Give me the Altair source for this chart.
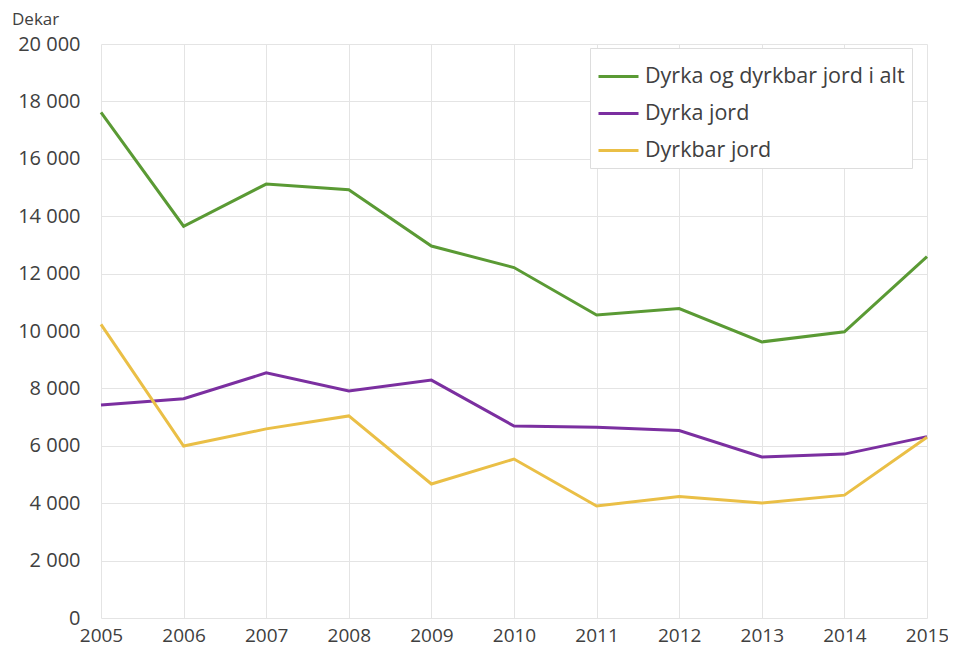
import altair as alt
import pandas as pd

years = [2005, 2006, 2007, 2008, 2009, 2010, 2011, 2012, 2013, 2014, 2015]
total = [17620, 13650, 15120, 14920, 12960, 12210, 10560, 10780, 9620, 9970, 12590]
dyrka = [7420, 7640, 8540, 7910, 8290, 6690, 6650, 6530, 5610, 5710, 6320]
dyrkbar = [10230, 5990, 6590, 7040, 4670, 5540, 3900, 4230, 4010, 4280, 6300]

series_names = ["Dyrka og dyrkbar jord i alt", "Dyrka jord", "Dyrkbar jord"]
series_colors = ["#5a9a34", "#7b2fa0", "#eabf46"]

rows = []
for name, vals in zip(series_names, [total, dyrka, dyrkbar]):
    for y, v in zip(years, vals):
        rows.append({"year": y, "value": v, "series": name})
df = pd.DataFrame(rows)

FONT = "Open Sans"
TXT = "#404040"

lines = alt.Chart(df).mark_line(strokeWidth=3).encode(
    x=alt.X("year:Q",
            scale=alt.Scale(domain=[2005, 2015], nice=False, zero=False),
            axis=alt.Axis(values=years, format="d", title=None, grid=True,
                          domain=False, ticks=False, labelPadding=8,
                          labelFontSize=19, labelColor=TXT, labelFont=FONT,
                          gridColor="#e4e4e4", labelFlush=False)),
    y=alt.Y("value:Q",
            scale=alt.Scale(domain=[0, 20000], nice=False),
            axis=alt.Axis(values=list(range(0, 20001, 2000)), title=None,
                          domain=False, ticks=False, labelPadding=21,
                          labelFontSize=20, labelColor=TXT, labelFont=FONT,
                          gridColor="#e4e4e4",
                          labelExpr="replace(format(datum.value, ','), ',', ' ')")),
    color=alt.Color("series:N",
                    scale=alt.Scale(domain=series_names, range=series_colors),
                    sort=series_names,
                    legend=alt.Legend(title=None, orient="none", legendX=489, legendY=4,
                                      symbolType="stroke", symbolSize=1600,
                                      symbolStrokeWidth=3, rowPadding=5,
                                      labelFontSize=21.5, labelColor=TXT, labelFont=FONT,
                                      labelOffset=5,
                                      fillColor="white", strokeColor="#dddddd",
                                      padding=7, labelLimit=500)),
)

unit = alt.Chart(pd.DataFrame({"t": ["Dekar"]})).mark_text(
    align="left", baseline="middle", fontSize=17, font=FONT, color=TXT
).encode(text="t:N", x=alt.value(-89), y=alt.value(-24))

chart = alt.layer(lines, unit).properties(
    width=826, height=574,
    autosize=alt.AutoSizeParams(type="none"),
    padding={"left": 93, "top": 36, "right": 21, "bottom": 30},
).configure_view(stroke=None)

chart.save("out.html", embed_options={"renderer": "svg", "actions": False})
